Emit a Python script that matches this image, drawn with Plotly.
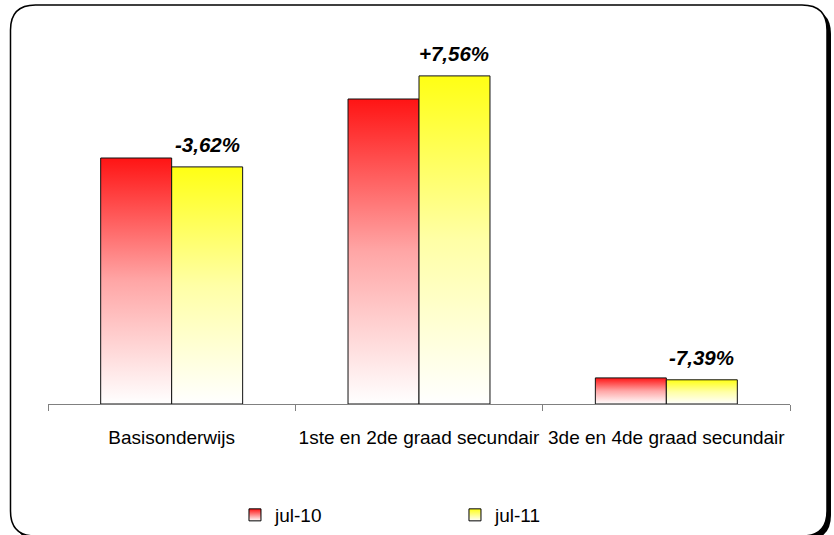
import plotly.graph_objects as go

categories = ["Basisonderwijs", "1ste en 2de graad secundair", "3de en 4de graad secundair"]
series_names = ["jul-10", "jul-11"]
jul10 = [246.0, 305.0, 26.1]
jul11 = [237.1, 328.1, 24.2]
change_labels = ["-3,62%", "+7,56%", "-7,39%"]

W, H = 834, 535
ML, MR, MT, MB = 48, 44, 20, 131
PW, PH = W - ML - MR, H - MT - MB
YMAX = 384.0

BAR_W = 0.287
top_cols = ["#ff1414", "#ffff14"]
mid_cols = ["#ffa6a6", "#ffffa6"]
fig = go.Figure()

for s, (name, vals) in enumerate(zip(series_names, [jul10, jul11])):
    off = -BAR_W / 2 if s == 0 else BAR_W / 2
    for i, v in enumerate(vals):
        c = i + off
        fig.add_trace(go.Scatter(
            x=[c - BAR_W / 2, c + BAR_W / 2, c + BAR_W / 2, c - BAR_W / 2, c - BAR_W / 2],
            y=[0, 0, v, v, 0],
            mode="lines", fill="toself",
            line=dict(color="#111111", width=1),
            fillgradient=dict(type="vertical", start=0, stop=v,
                              colorscale=[[0, "#ffffff"], [0.5, mid_cols[s]], [1, top_cols[s]]]),
            showlegend=False, hoverinfo="skip"))
    fig.add_trace(go.Scatter(
        x=[None], y=[None], mode="markers", name=name,
        marker=dict(symbol="square", size=12, color=top_cols[s],
                    gradient=dict(type="vertical", color="#ffffff"),
                    line=dict(color="#000000", width=1))))

for i, (v, t) in enumerate(zip(jul11, change_labels)):
    fig.add_annotation(x=i + BAR_W / 2, y=v, text="<b><i>" + t + "</i></b>",
                       showarrow=False, yanchor="bottom", yshift=9,
                       font=dict(size=20.5, color="#000000", family="Liberation Sans, Arial"))


def px(x, y):
    return (x - ML) / PW, (H - MB - y) / PH


def rrect(x0, y0, x1, y1, r):
    def P(x, y):
        fx, fy = px(x, y)
        return f"{fx:.5f},{fy:.5f}"
    d = (f"M{P(x0 + r, y0)} L{P(x1 - r, y0)} Q{P(x1, y0)} {P(x1, y0 + r)} "
         f"L{P(x1, y1 - r)} Q{P(x1, y1)} {P(x1 - r, y1)} L{P(x0 + r, y1)} "
         f"Q{P(x0, y1)} {P(x0, y1 - r)} L{P(x0, y0 + r)} Q{P(x0, y0)} {P(x0 + r, y0)} Z")
    return d


fig.add_shape(type="path", xref="paper", yref="paper", layer="below",
              path=rrect(14, 9, 831, 540, 25), fillcolor="#000000",
              line=dict(width=0))
fig.add_shape(type="path", xref="paper", yref="paper", layer="below",
              path=rrect(10.5, 5, 827, 536, 25), fillcolor="#ffffff",
              line=dict(color="#000000", width=1.5))

fig.update_layout(
    width=W, height=H,
    margin=dict(l=ML, r=MR, t=MT, b=MB, autoexpand=False),
    paper_bgcolor="#ffffff", plot_bgcolor="rgba(0,0,0,0)",
    font=dict(family="Liberation Sans, Arial", color="#000000"),
    xaxis=dict(range=[-0.5, 2.5], tickvals=[0, 1, 2], ticktext=categories,
               ticks="", showgrid=False, zeroline=False, showline=True,
               linecolor="#808080", linewidth=1, automargin=False,
               tickfont=dict(size=19), ticklabelstandoff=16,
               minor=dict(tickmode="array", tickvals=[-0.5, 0.5, 1.5, 2.5], ticks="outside",
                          ticklen=6, tickcolor="#808080", showgrid=False)),
    yaxis=dict(range=[0, YMAX], visible=False, automargin=False),
    legend=dict(orientation="h", x=0.252, xanchor="left",
                yref="container", y=(H - 515) / H, yanchor="middle",
                font=dict(size=19), entrywidth=175, bgcolor="rgba(0,0,0,0)"),
    showlegend=True,
)

fig.write_html("out.html", config={"displayModeBar": False},
               post_script="document.body.style.margin='0px';")
